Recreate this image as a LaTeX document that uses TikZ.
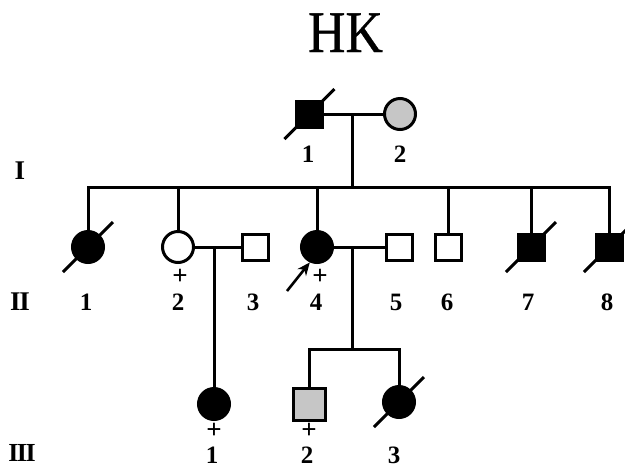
\documentclass[tikz,border=0pt]{standalone}
\usepackage{fontspec}
\setmainfont{Liberation Serif}
\newfontfamily\titlefont[FakeBold=0.6]{Liberation Serif}
\usetikzlibrary{arrows.meta,calc}
\begin{document}
\begin{tikzpicture}[x=1pt,y=-1pt,
  line width=3pt,
  sq/.style={draw, rectangle, minimum size=26pt, inner sep=0pt},
  ci/.style={draw, circle, minimum size=31pt, inner sep=0pt},
  aff/.style={fill=black},
  car/.style={fill=gray!45},
  lbl/.style={font=\fontsize{25}{25}\selectfont\bfseries, anchor=base, inner sep=0pt},
  gen/.style={font=\fontsize{27}{27}\selectfont\bfseries, anchor=base, inner sep=0pt},
  pl/.style={font=\fontsize{27}{27}\selectfont\bfseries, inner sep=0pt},
  dead/.style={line width=3pt},
]
\useasboundingbox (0,0) rectangle (625,467);
\clip (0,0) rectangle (625,467);

% title
\node[anchor=base, inner sep=0pt, font=\fontsize{59}{59}\selectfont\titlefont] (title) at (345.5,52) {\scalebox{0.88}[1]{HK}};

% generation I
\node[sq, aff] (I1) at (309.5,114) {};
\node[ci, car] (I2) at (400,114) {};
\draw (I1.east) -- (I2.west);
\coordinate (m1) at (352,114);
\coordinate (s1) at (352,187);
\draw (m1) -- (s1);

% generation II
\node[ci, aff] (II1) at (88,247) {};
\node[ci] (II2) at (178,247) {};
\node[sq] (II3) at (255,247) {};
\node[ci, aff] (II4) at (317,247) {};
\node[sq] (II5) at (399.5,247) {};
\node[sq] (II6) at (448,247) {};
\node[sq, aff] (II7) at (531,247) {};
\node[sq, aff] (II8) at (609,247) {};

\draw (II1.north) -- (II1.north |- s1) -- (II8.north |- s1) -- (II8.north);
\foreach \n in {II2,II4,II6,II7} \draw (\n.north) -- (\n.north |- s1);

\draw (II2.east) -- (II3.west);
\draw (II4.east) -- (II5.west);
\coordinate (m2) at (214,247);
\coordinate (m3) at (352,247);
\coordinate (s3) at (352,349);

% generation III
\node[ci, aff] (III1) at (214,404) {};
\node[sq, car, minimum size=32pt] (III2) at (309,404) {};
\node[ci, aff] (III3) at (399,402) {};

\draw (m2) -- (III1.north);
\draw (m3) -- (s3);
\draw (III2.north) -- (III2.north |- s3) -- (III3.north |- s3) -- (III3.north);

% deceased slashes
\foreach \n in {I1,II1,II7,II8,III3}
  \draw[dead] ($(\n)+(-25,25)$) -- ($(\n)+(25,-25)$);

% proband arrow
\coordinate (a0) at (287,291);
\draw[line width=2.6pt, -{Stealth[length=13pt,width=11pt]}] (a0) -- (II4.245);

% plus signs
\node[pl] (p1) at (180,277) {+};
\node[pl] (p2) at (320,277) {+};
\node[pl] (p3) at (214,431) {+};
\node[pl] (p4) at (309,431) {+};

% labels
\node[lbl] (lI1) at (308,162) {1};
\node[lbl] (lI2) at (400,162) {2};
\node[lbl] (lII1) at (86,310) {1};
\node[lbl] (lII2) at (178,310) {2};
\node[lbl] (lII3) at (253,310) {3};
\node[lbl] (lII4) at (316,310) {4};
\node[lbl] (lII5) at (396,310) {5};
\node[lbl] (lII6) at (447,310) {6};
\node[lbl] (lII7) at (528,310) {7};
\node[lbl] (lII8) at (607,310) {8};
\node[lbl] (lIII1) at (212,463) {1};
\node[lbl] (lIII2) at (307,463) {2};
\node[lbl] (lIII3) at (394,463) {3};

% generation labels
\node[gen] (gI) at (20,179) {I};
\node[gen] (gII) at (20,310) {I\kern-1.5pt I};
\node[gen, font=\fontsize{26}{26}\selectfont\bfseries] (gIII) at (22,461) {I\kern-1.5pt I\kern-1.5pt I};
\end{tikzpicture}
\end{document}
